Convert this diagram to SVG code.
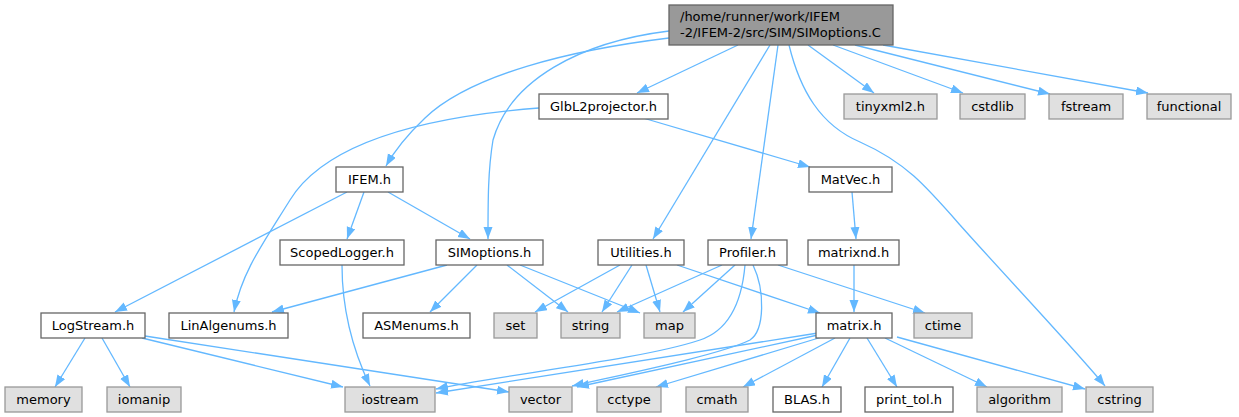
<svg xmlns="http://www.w3.org/2000/svg" width="1239" height="417" viewBox="0 0 1239 417">
<defs>
<marker id="ah" markerUnits="userSpaceOnUse" markerWidth="13" markerHeight="10" refX="12" refY="4.5" orient="auto">
<path d="M0,0 L12,4.5 L0,9 z" fill="#63b8ff"/>
</marker>
<style>
.n rect{fill:#ffffff;stroke:#666666;stroke-width:1.3}
.g rect{fill:#e0e0e0;stroke:#999999;stroke-width:1.3}
.r rect{fill:#999999;stroke:#666666;stroke-width:1.3}
text{font-family:"DejaVu Sans","Liberation Sans",sans-serif;font-size:13px;fill:#000000}
.c{text-anchor:middle}
#edges path{fill:none;stroke:#63b8ff;stroke-width:1.3;marker-end:url(#ah)}
</style>
</defs>
<rect width="1239" height="417" fill="#ffffff"/>
<g id="edges">
<path d="M669,38 C570,50 470,75 425,118 C405,137 395,150 386,166"/>
<path d="M669,31 C580,42 510,80 493,140 C488,170 488,200 488,239"/>
<path d="M738,45 L637,93"/>
<path d="M770,45 L653,239"/>
<path d="M778,45 L751,239"/>
<path d="M789,45 C800,90 820,125 860,142 C905,162 925,185 960,225 C1000,270 1080,355 1105,386"/>
<path d="M808,45 L874,93"/>
<path d="M833,45 L963,93"/>
<path d="M855,45 L1050,94"/>
<path d="M883,45 L1148,93"/>
<path d="M539,108 C450,115 330,135 290,200 C262,245 242,272 234,312"/>
<path d="M643,118 L810,167"/>
<path d="M852,192 L856,239"/>
<path d="M854,265 L854,312"/>
<path d="M364,192 L347,239"/>
<path d="M388,192 L470,239"/>
<path d="M347,192 L115,312"/>
<path d="M342,265 C342,300 348,340 370,386"/>
<path d="M447,265 L272,312"/>
<path d="M477,265 L430,312"/>
<path d="M507,265 L568,312"/>
<path d="M520,265 L640,313"/>
<path d="M620,265 L535,312"/>
<path d="M632,265 L602,312"/>
<path d="M646,265 L660,312"/>
<path d="M677,265 L820,313"/>
<path d="M722,265 L617,312"/>
<path d="M735,265 L683,312"/>
<path d="M778,265 L925,313"/>
<path d="M745,265 C742,300 730,330 700,340 C640,360 500,375 436,389"/>
<path d="M753,265 C765,290 765,330 750,340 C720,355 620,375 572,386"/>
<path d="M85,338 L55,387"/>
<path d="M102,338 L130,387"/>
<path d="M142,338 L343,387"/>
<path d="M145,336 L509,392"/>
<path d="M818,333 L436,393"/>
<path d="M818,335 L577,387"/>
<path d="M822,337 L656,387"/>
<path d="M835,338 L743,387"/>
<path d="M850,338 L822,387"/>
<path d="M867,338 L897,387"/>
<path d="M885,338 L987,387"/>
<path d="M897,337 L1085,389"/>
</g>
<g id="root" class="r"><rect x="669" y="5" width="224" height="40"/><text x="680" y="21">/home/runner/work/IFEM</text><text x="680" y="37">-2/IFEM-2/src/SIM/SIMoptions.C</text></g>
<g id="GlbL2projector" class="n"><rect x="539" y="94" width="129" height="25"/><text class="c" x="603.5" y="111">GlbL2projector.h</text></g>
<g id="tinyxml2" class="g"><rect x="844" y="94" width="93" height="25"/><text class="c" x="890.5" y="111">tinyxml2.h</text></g>
<g id="cstdlib" class="g"><rect x="960" y="94" width="65" height="25"/><text class="c" x="992.5" y="111">cstdlib</text></g>
<g id="fstream" class="g"><rect x="1049" y="94" width="74" height="25"/><text class="c" x="1086" y="111">fstream</text></g>
<g id="functional" class="g"><rect x="1147" y="94" width="84" height="25"/><text class="c" x="1189" y="111">functional</text></g>
<g id="IFEM" class="n"><rect x="336" y="167" width="67" height="25"/><text class="c" x="369.5" y="184">IFEM.h</text></g>
<g id="MatVec" class="n"><rect x="809" y="167" width="83" height="25"/><text class="c" x="850.5" y="184">MatVec.h</text></g>
<g id="ScopedLogger" class="n"><rect x="280" y="240" width="124" height="25"/><text class="c" x="342" y="257">ScopedLogger.h</text></g>
<g id="SIMoptions" class="n"><rect x="436" y="240" width="107" height="25"/><text class="c" x="489.5" y="257">SIMoptions.h</text></g>
<g id="Utilities" class="n"><rect x="598" y="240" width="86" height="25"/><text class="c" x="641" y="257">Utilities.h</text></g>
<g id="Profiler" class="n"><rect x="708" y="240" width="79" height="25"/><text class="c" x="747.5" y="257">Profiler.h</text></g>
<g id="matrixnd" class="n"><rect x="808" y="240" width="91" height="25"/><text class="c" x="853.5" y="257">matrixnd.h</text></g>
<g id="LogStream" class="n"><rect x="41" y="313" width="104" height="25"/><text class="c" x="93" y="330">LogStream.h</text></g>
<g id="LinAlgenums" class="n"><rect x="169" y="313" width="119" height="25"/><text class="c" x="228.5" y="330">LinAlgenums.h</text></g>
<g id="ASMenums" class="n"><rect x="363" y="313" width="107" height="25"/><text class="c" x="416.5" y="330">ASMenums.h</text></g>
<g id="set" class="g"><rect x="494" y="313" width="43" height="25"/><text class="c" x="515.5" y="330">set</text></g>
<g id="string" class="g"><rect x="561" y="313" width="59" height="25"/><text class="c" x="590.5" y="330">string</text></g>
<g id="map" class="g"><rect x="644" y="313" width="51" height="25"/><text class="c" x="669.5" y="330">map</text></g>
<g id="matrix" class="n"><rect x="816" y="313" width="76" height="25"/><text class="c" x="854" y="330">matrix.h</text></g>
<g id="ctime" class="g"><rect x="914" y="313" width="58" height="25"/><text class="c" x="943" y="330">ctime</text></g>
<g id="memory" class="g"><rect x="5" y="387" width="77" height="25"/><text class="c" x="43.5" y="404">memory</text></g>
<g id="iomanip" class="g"><rect x="107" y="387" width="74" height="25"/><text class="c" x="144" y="404">iomanip</text></g>
<g id="iostream" class="g"><rect x="345" y="387" width="90" height="25"/><text class="c" x="390" y="404">iostream</text></g>
<g id="vector" class="g"><rect x="509" y="387" width="63" height="25"/><text class="c" x="540.5" y="404">vector</text></g>
<g id="cctype" class="g"><rect x="597" y="387" width="64" height="25"/><text class="c" x="629" y="404">cctype</text></g>
<g id="cmath" class="g"><rect x="686" y="387" width="62" height="25"/><text class="c" x="717" y="404">cmath</text></g>
<g id="BLAS" class="n"><rect x="773" y="387" width="68" height="25"/><text class="c" x="807" y="404">BLAS.h</text></g>
<g id="print_tol" class="n"><rect x="865" y="387" width="88" height="25"/><text class="c" x="909" y="404">print_tol.h</text></g>
<g id="algorithm" class="g"><rect x="977" y="387" width="85" height="25"/><text class="c" x="1019.5" y="404">algorithm</text></g>
<g id="cstring" class="g"><rect x="1086" y="387" width="67" height="25"/><text class="c" x="1119.5" y="404">cstring</text></g>
</svg>
